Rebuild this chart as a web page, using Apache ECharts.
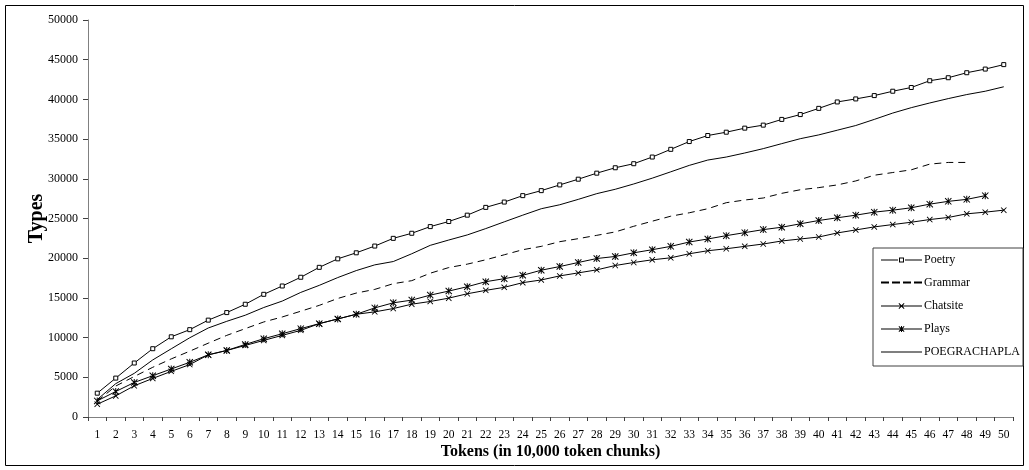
<!DOCTYPE html>
<html>
<head>
<meta charset="utf-8">
<script src="https://cdn.jsdelivr.net/npm/echarts@6/dist/echarts.min.js"></script>
<style>
html,body{margin:0;padding:0;background:#fff;}
#c{width:1029px;height:470px;}
</style>
</head>
<body>
<div id="c"></div>
<script>
var categories = ['1','2','3','4','5','6','7','8','9','10','11','12','13','14','15','16','17','18','19','20','21','22','23','24','25','26','27','28','29','30','31','32','33','34','35','36','37','38','39','40','41','42','43','44','45','46','47','48','49','50'];

var poetry = [3000,4900,6800,8600,10100,11000,12200,13150,14200,15450,16500,17600,18850,19920,20680,21530,22500,23140,23980,24620,25420,26400,27070,27880,28510,29230,29950,30710,31390,31900,32740,33710,34690,35450,35870,36380,36760,37480,38090,38870,39680,40060,40480,41030,41500,42350,42730,43360,43820,44380];

var grammar = [2000,3900,5100,6260,7320,8290,9300,10280,11130,11970,12600,13320,14060,14930,15610,16070,16790,17170,18110,18820,19250,19800,20430,21070,21490,22080,22460,22880,23310,24020,24660,25290,25720,26230,26990,27330,27580,28170,28620,28890,29230,29730,30450,30790,31130,31850,32060,32060];

var chatsite = [1610,2660,3930,4860,5750,6600,7830,8380,9010,9650,10280,10910,11760,12350,12940,13240,13660,14210,14550,14970,15520,15950,16330,16920,17260,17770,18150,18530,19080,19460,19800,20050,20560,20940,21190,21490,21790,22170,22420,22670,23180,23560,23940,24240,24530,24870,25130,25590,25800,26050];

var plays = [2030,3210,4350,5200,6050,6890,7830,8380,9140,9860,10490,11130,11760,12350,12940,13740,14380,14720,15350,15860,16410,17040,17420,17850,18490,18950,19460,19960,20220,20680,21070,21490,22040,22420,22840,23220,23600,23900,24330,24750,25090,25420,25800,26050,26350,26810,27160,27410,27880];

var poegrachapla = [2200,4200,5500,7190,8590,9980,11210,12050,12820,13790,14600,15690,16580,17560,18440,19160,19580,20560,21620,22290,22930,23730,24580,25420,26230,26730,27410,28130,28680,29350,30080,30880,31690,32360,32740,33250,33800,34430,35050,35530,36120,36710,37480,38280,38960,39550,40100,40610,41030,41590];

var xName = 'Tokens (in 10,000 token chunks)';
var yName = 'Types';

var FONT = '"Liberation Serif", "Times New Roman", serif';
var xSym = 'path://M0,1L1,0L5,4L9,0L10,1L6,5L10,9L9,10L5,6L1,10L0,9L4,5Z';
var starSym = 'path://M0,1L1,0L5,4L9,0L10,1L6,5L10,9L9,10L5,6L1,10L0,9L4,5Z M4.3,0L5.7,0L5.7,10L4.3,10Z';

// legend icons drawn in a 41 x 9 box (corner dots fix the bounding box)
var BOX = 'M0,0L0.01,0L0,0.01Z M41,9L40.99,9L41,8.99Z ';
var LINE_L = 'M0,4L17,4L17,5L0,5Z ';
var LINE_R = 'M24,4L41,4L41,5L24,5Z ';
var iconPoetry = 'path://' + BOX + LINE_L + LINE_R + 'M18,2L23,2L23,7L18,7Z M19,3L19,6L22,6L22,3Z';
var iconGrammar = 'path://' + BOX + 'M0,3L8,3L8,5L0,5Z M11,3L19,3L19,5L11,5Z M22,3L30,3L30,5L22,5Z M33,3L41,3L41,5L33,5Z';
var iconChat = 'path://' + BOX + LINE_L + LINE_R + 'M17.5,2.2L18.2,1.5L20.5,3.8L22.8,1.5L23.5,2.2L21.2,4.5L23.5,6.8L22.8,7.5L20.5,5.2L18.2,7.5L17.5,6.8L19.8,4.5Z M17,4L24,4L24,5L17,5Z';
var iconPlays = 'path://' + BOX + LINE_L + LINE_R + 'M17.5,2.2L18.2,1.5L20.5,3.8L22.8,1.5L23.5,2.2L21.2,4.5L23.5,6.8L22.8,7.5L20.5,5.2L18.2,7.5L17.5,6.8L19.8,4.5Z M20,1.5L21,1.5L21,7.5L20,7.5Z M17,4L24,4L24,5L17,5Z';
var iconPoeg = 'path://' + BOX + 'M0,4L41,4L41,5L0,5Z';

var chart = echarts.init(document.getElementById('c'), null, {renderer: 'canvas'});

function lineSeries(name, data, opts) {
  var s = {
    name: name,
    type: 'line',
    data: data,
    smooth: false,
    animation: false,
    showSymbol: true,
    lineStyle: {color: '#000', width: 1, type: 'solid'},
    emphasis: {disabled: true}
  };
  for (var k in opts) s[k] = opts[k];
  return s;
}

var legendItemStyle = {color: '#000', borderWidth: 0, opacity: 1};

var option = {
  animation: false,
  backgroundColor: '#fff',
  textStyle: {fontFamily: FONT, color: '#000'},
  grid: {left: 88, right: 16, top: 20, bottom: 53, containLabel: false},
  graphic: [{
    type: 'rect',
    shape: {x: 5.5, y: 5.5, width: 1018, height: 460},
    style: {fill: 'none', stroke: '#000', lineWidth: 1},
    silent: true,
    z: 0
  }],
  legend: {
    orient: 'vertical',
    left: 873,
    top: 248,
    padding: [6, 3, 8, 8],
    itemGap: 11,
    itemWidth: 41,
    itemHeight: 9,
    borderColor: '#404040',
    borderWidth: 1,
    backgroundColor: '#fff',
    textStyle: {fontFamily: FONT, fontSize: 12, color: '#000', padding: [0, 0, 0, -3]},
    data: [
      {name: 'Poetry', icon: iconPoetry, itemStyle: legendItemStyle},
      {name: 'Grammar', icon: iconGrammar, itemStyle: legendItemStyle},
      {name: 'Chatsite', icon: iconChat, itemStyle: legendItemStyle},
      {name: 'Plays', icon: iconPlays, itemStyle: legendItemStyle},
      {name: 'POEGRACHAPLA', icon: iconPoeg, itemStyle: legendItemStyle}
    ]
  },
  xAxis: {
    type: 'category',
    data: categories,
    boundaryGap: true,
    name: xName,
    nameLocation: 'middle',
    nameGap: 27,
    nameMoveOverlap: false,
    nameTextStyle: {fontFamily: FONT, fontSize: 16, fontWeight: 'bold', color: '#000'},
    axisLine: {lineStyle: {color: '#808080', width: 1}},
    axisTick: {show: true, interval: 0, length: 4, lineStyle: {color: '#404040'}},
    axisLabel: {interval: 0, margin: 12, fontFamily: FONT, fontSize: 11.5, color: '#000'},
    splitLine: {show: false}
  },
  yAxis: {
    type: 'value',
    min: 0,
    max: 50000,
    interval: 5000,
    name: yName,
    nameLocation: 'middle',
    nameGap: 41,
    nameMoveOverlap: false,
    nameTextStyle: {fontFamily: FONT, fontSize: 20, fontWeight: 'bold', color: '#000'},
    axisLine: {show: true, lineStyle: {color: '#808080', width: 1}},
    axisTick: {show: true, length: 5, lineStyle: {color: '#404040'}},
    axisLabel: {margin: 10, fontFamily: FONT, fontSize: 12, color: '#000',
      formatter: function (v) { return String(v); }},
    splitLine: {show: false}
  },
  series: [
    lineSeries('Poetry', poetry, {
      symbol: 'rect', symbolSize: 4,
      itemStyle: {color: '#fff', borderColor: '#000', borderWidth: 1}
    }),
    lineSeries('Grammar', grammar, {
      symbol: 'none',
      itemStyle: {color: '#000'},
      lineStyle: {color: '#000', width: 1, type: [7, 5]}
    }),
    lineSeries('Chatsite', chatsite, {
      symbol: xSym, symbolSize: 6,
      itemStyle: {color: '#000', borderWidth: 0}
    }),
    lineSeries('Plays', plays, {
      symbol: starSym, symbolSize: 7,
      itemStyle: {color: '#000', borderWidth: 0}
    }),
    lineSeries('POEGRACHAPLA', poegrachapla, {
      symbol: 'none',
      itemStyle: {color: '#000'}
    })
  ]
};

chart.setOption(option);
</script>
</body>
</html>
